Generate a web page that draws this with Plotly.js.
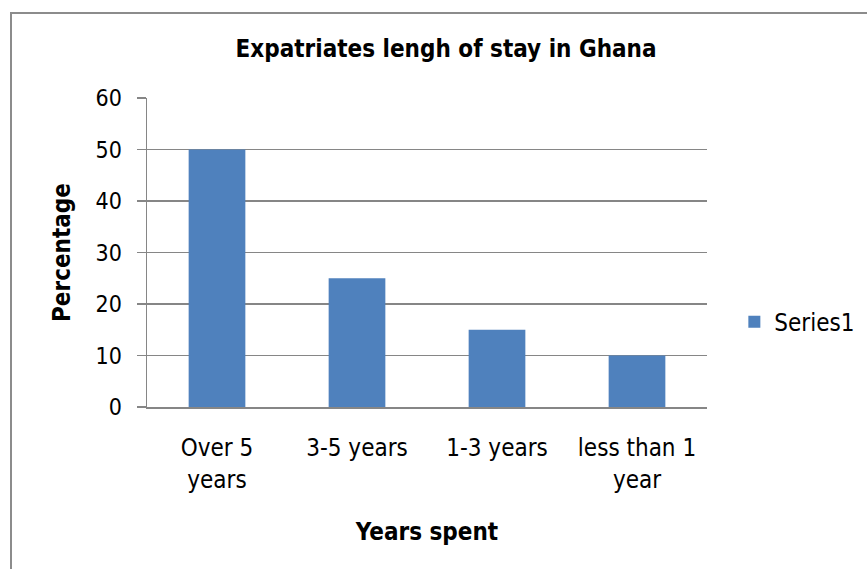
<!DOCTYPE html>
<html>
<head>
<meta charset="utf-8">
<script src="https://cdn.plot.ly/plotly-3.0.1.min.js"></script>
<style>
html,body{margin:0;padding:0;background:#fff;}
#chart{width:867px;height:569px;}
#frame{position:absolute;left:10px;top:12px;width:900px;height:600px;border:2px solid #8c8c8c;box-sizing:border-box;pointer-events:none;}
</style>
</head>
<body>
<div id="chart"></div>
<div id="frame"></div>
<script>
const categories = ["Over 5<br>years", "3-5 years", "1-3 years", "less than 1<br>year"];
const series1 = [50, 25, 15, 10];
const yTicks = [0, 10, 20, 30, 40, 50, 60];

const FONT = '"DejaVu Sans Condensed", "DejaVu Sans", sans-serif';

const data = [{
  type: 'bar',
  name: 'Series1',
  x: categories,
  y: series1,
  marker: {color: '#4F81BD'},
  showlegend: true
}];

const layout = {
  width: 867, height: 569,
  margin: {l: 147, r: 160, t: 98, b: 162, pad: 0},
  paper_bgcolor: '#ffffff',
  plot_bgcolor: '#ffffff',
  font: {family: FONT, size: 22, color: '#000000'},
  bargap: 0.595,
  showlegend: true,
  title: {
    text: '<b>Expatriates lengh of stay in Ghana</b>',
    font: {family: FONT, size: 24, color: '#000000'},
    x: 0.534, xref: 'paper', xanchor: 'center',
    y: 0.914, yref: 'container', yanchor: 'middle'
  },
  xaxis: {
    type: 'category',
    range: [-0.5, 3.5],
    showline: true, linecolor: '#868686', linewidth: 1.5,
    ticks: '', showgrid: false, zeroline: false,
    ticklabelstandoff: 19,
    tickfont: {family: FONT, size: 24, color: '#000000'},
    automargin: false,
    title: {text: '<b>Years spent</b>', font: {family: FONT, size: 24, color: '#000000'}, standoff: 30}
  },
  yaxis: {
    range: [0, 60],
    tickvals: yTicks,
    showline: true, linecolor: '#868686', linewidth: 1.5,
    ticks: 'outside', ticklen: 9, tickcolor: '#868686', tickwidth: 1.5,
    showgrid: true, gridcolor: '#868686', gridwidth: 1.2,
    zeroline: false,
    ticklabelstandoff: 10,
    tickfont: {family: FONT, size: 23, color: '#000000'},
    automargin: false,
    title: {text: '<b>Percentage</b>', font: {family: FONT, size: 24, color: '#000000'}, standoff: 18}
  },
  legend: {
    xref: 'container', yref: 'container',
    x: 0.847, xanchor: 'left', y: 0.434, yanchor: 'middle',
    font: {family: FONT, size: 24, color: '#000000'},
    itemwidth: 30, bgcolor: 'rgba(0,0,0,0)'
  }
};

Plotly.newPlot('chart', data, layout, {displayModeBar: false, staticPlot: true});
</script>
</body>
</html>
